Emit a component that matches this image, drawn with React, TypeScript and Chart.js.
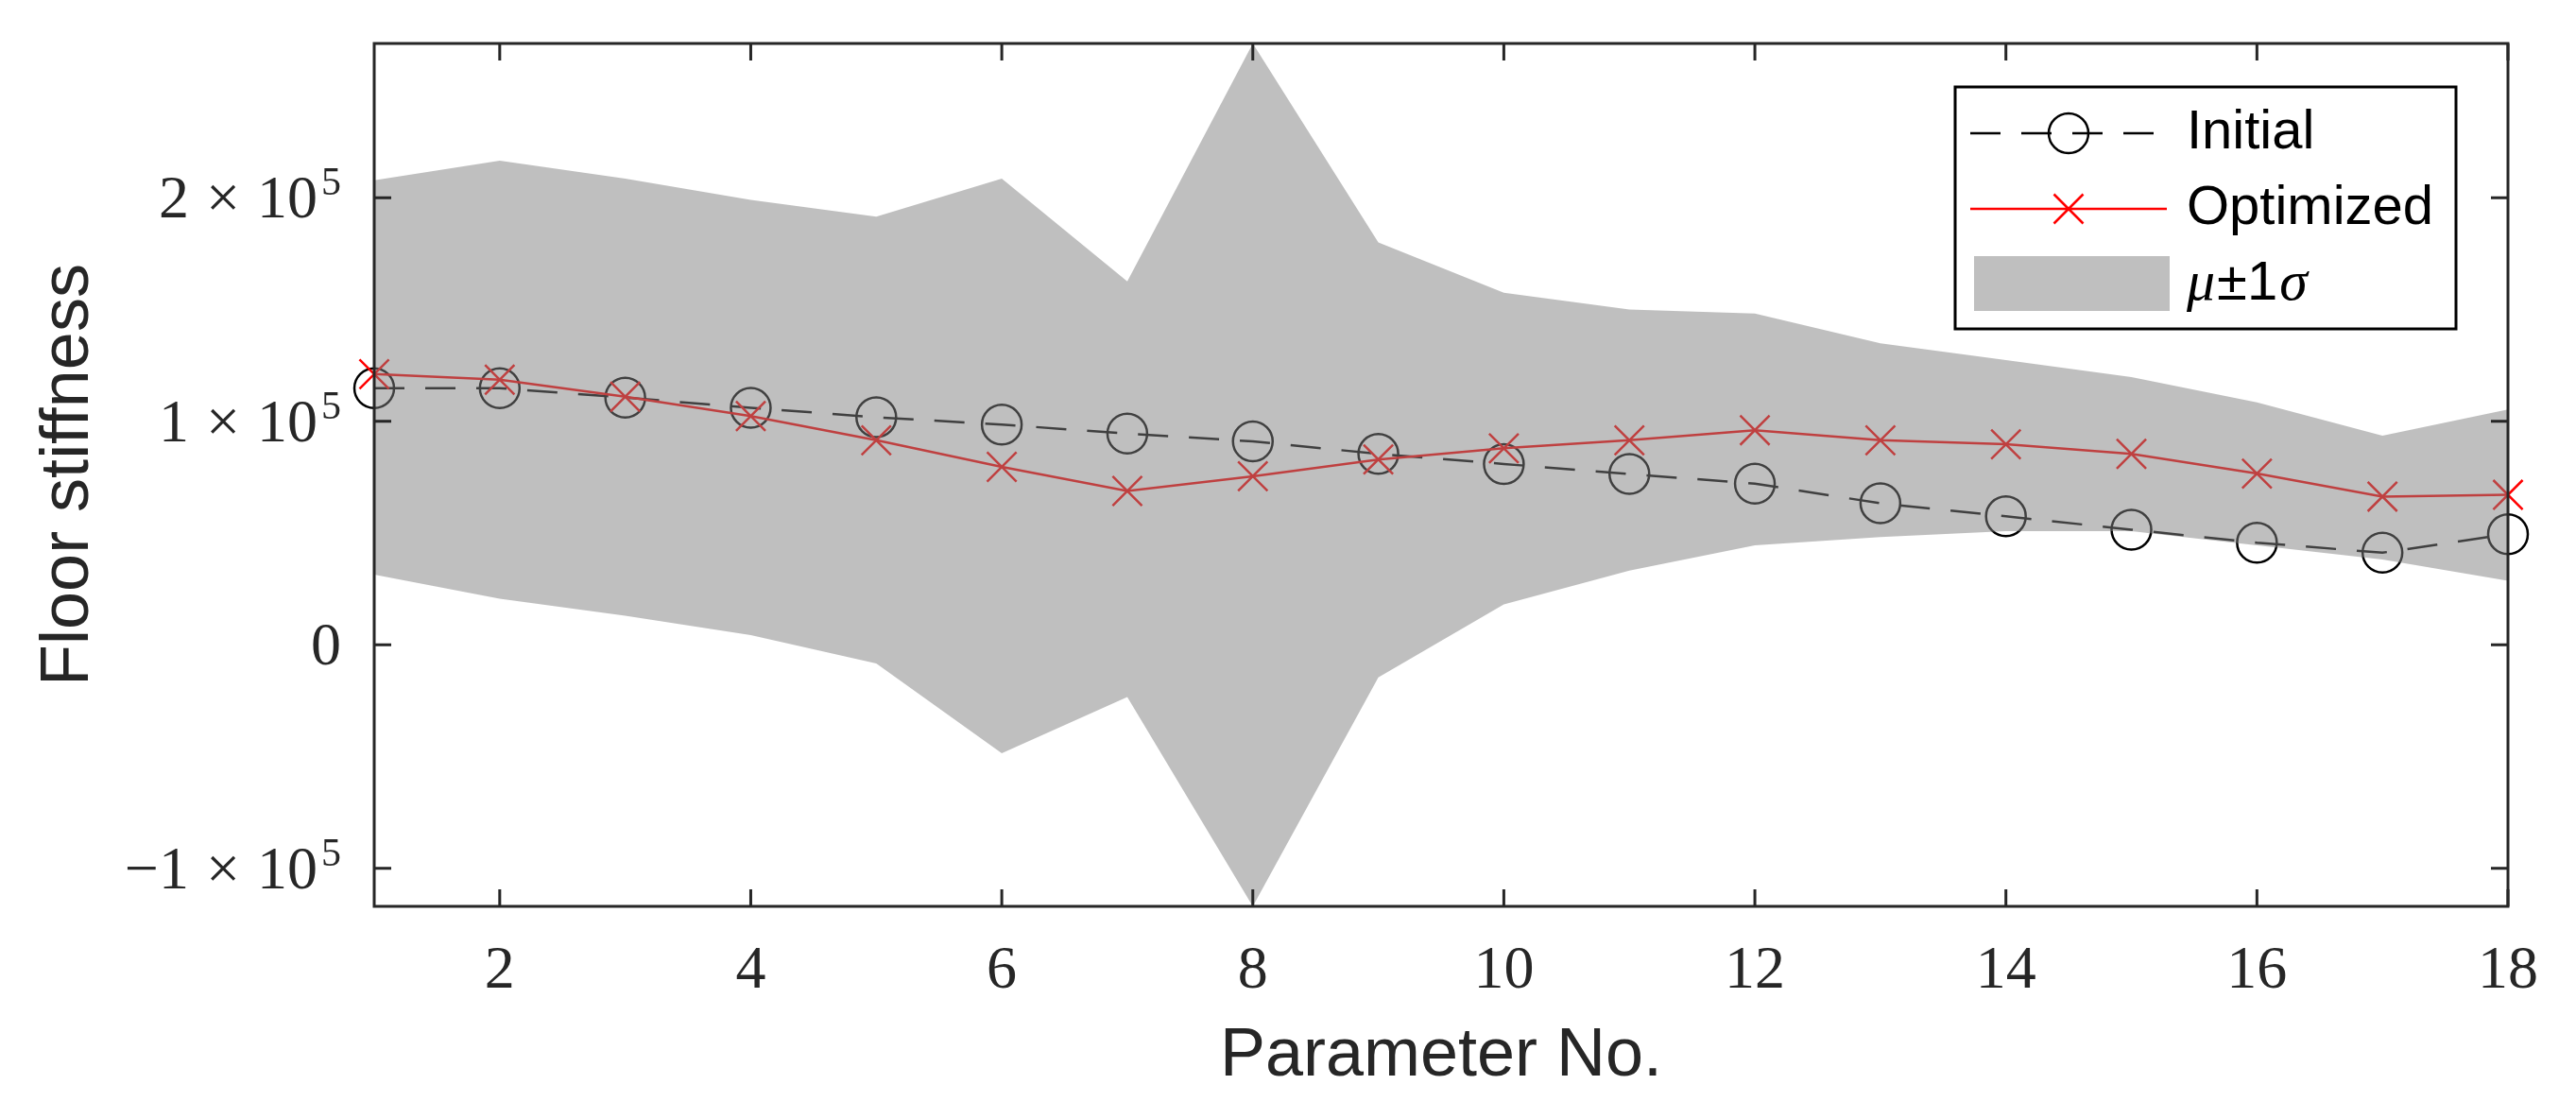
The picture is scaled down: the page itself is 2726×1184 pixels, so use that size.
import React, { useEffect, useRef } from 'react';
import { Chart, registerables } from 'chart.js';

Chart.register(...registerables);

// Parameter index on the x axis
const paramNo = [1, 2, 3, 4, 5, 6, 7, 8, 9, 10, 11, 12, 13, 14, 15, 16, 17, 18];

// Floor stiffness values
const initialStiffness = [
  1.148e5, 1.148e5, 1.106e5, 1.06e5, 1.018e5, 0.985e5, 0.945e5, 0.91e5, 0.854e5,
  0.809e5, 0.764e5, 0.721e5, 0.633e5, 0.575e5, 0.515e5, 0.457e5, 0.412e5, 0.495e5,
];
const optimizedStiffness = [
  1.211e5, 1.186e5, 1.11e5, 1.023e5, 0.915e5, 0.796e5, 0.688e5, 0.754e5, 0.829e5,
  0.879e5, 0.915e5, 0.96e5, 0.915e5, 0.897e5, 0.854e5, 0.766e5, 0.663e5, 0.671e5,
];
// mu +/- 1 sigma band
const bandUpper = [
  2.078e5, 2.166e5, 2.085e5, 1.99e5, 1.915e5, 2.085e5, 1.626e5, 2.69e5, 1.8e5,
  1.575e5, 1.5e5, 1.482e5, 1.349e5, 1.274e5, 1.198e5, 1.085e5, 0.935e5, 1.053e5,
];
const bandLower = [
  0.314e5, 0.206e5, 0.13e5, 0.043e5, -0.083e5, -0.485e5, -0.234e5, -1.17e5, -0.146e5,
  0.181e5, 0.332e5, 0.445e5, 0.482e5, 0.508e5, 0.508e5, 0.445e5, 0.382e5, 0.286e5,
];

const xTickValues = [2, 4, 6, 8, 10, 12, 14, 16, 18];
const yTickValues = [-1e5, 0, 1e5, 2e5];
const legendLabels = ['Initial', 'Optimized'];

const AXIS_COLOR = '#262626';
const BAND_FILL = 'rgba(128,128,128,0.5)';
const SANS = '"Liberation Sans", Arial, sans-serif';
const SERIF = '"Liberation Serif", "Times New Roman", serif';
const TICK_LEN = 18;

const toPoints = (ys: number[]) => paramNo.map((p, i) => ({ x: p, y: ys[i] }));

// y labels like "2 x 10^5" with a raised exponent
function drawPowerLabel(ctx: CanvasRenderingContext2D, value: number, xRight: number, yPix: number) {
  const base = yPix + 21;
  ctx.fillStyle = AXIS_COLOR;
  ctx.textAlign = 'left';
  ctx.textBaseline = 'alphabetic';
  const mainFont = `64px ${SERIF}`;
  const supFont = `42px ${SERIF}`;
  if (value === 0) {
    ctx.font = mainFont;
    ctx.fillText('0', xRight - ctx.measureText('0').width, base);
    return;
  }
  const mant = value / 1e5;
  const mantStr = mant < 0 ? `\u2212${Math.abs(mant)}` : `${mant}`;
  const gap = 18;
  ctx.font = mainFont;
  const wM = ctx.measureText(mantStr).width;
  const wX = ctx.measureText('\u00d7').width;
  const wTen = ctx.measureText('10').width;
  ctx.font = supFont;
  const wSup = ctx.measureText('5').width;
  const total = wM + gap + wX + gap + wTen + 4 + wSup;
  let x = xRight - total;
  ctx.font = mainFont;
  ctx.fillText(mantStr, x, base);
  x += wM + gap;
  ctx.fillText('\u00d7', x, base);
  x += wX + gap;
  ctx.fillText('10', x, base);
  x += wTen + 4;
  ctx.font = supFont;
  ctx.fillText('5', x, yPix - 3);
}

const axesBox = {
  id: 'axesBox',
  afterDatasetsDraw(chart: any) {
    const { ctx, chartArea, scales } = chart;
    const { left, right, top, bottom } = chartArea;
    const xs = scales.x;
    const ys = scales.y;
    ctx.save();
    ctx.strokeStyle = AXIS_COLOR;
    ctx.lineWidth = 3;
    ctx.beginPath();
    xs.ticks.forEach((t: any) => {
      const px = xs.getPixelForValue(t.value);
      ctx.moveTo(px, bottom);
      ctx.lineTo(px, bottom - TICK_LEN);
      ctx.moveTo(px, top);
      ctx.lineTo(px, top + TICK_LEN);
    });
    ys.ticks.forEach((t: any) => {
      const py = ys.getPixelForValue(t.value);
      ctx.moveTo(left, py);
      ctx.lineTo(left + TICK_LEN, py);
      ctx.moveTo(right, py);
      ctx.lineTo(right - TICK_LEN, py);
    });
    ctx.stroke();
    ctx.strokeRect(left, top, right - left, bottom - top);
    ys.ticks.forEach((t: any) => {
      drawPowerLabel(ctx, t.value, left - 35, ys.getPixelForValue(t.value));
    });
    ctx.restore();
  },
  afterDraw(chart: any) {
    const { ctx, chartArea } = chart;
    const bw = 530;
    const bh = 256;
    const bx = chartArea.right - 55 - bw;
    const by = chartArea.top + 46;
    ctx.save();
    ctx.fillStyle = '#ffffff';
    ctx.fillRect(bx, by, bw, bh);
    ctx.strokeStyle = '#000000';
    ctx.lineWidth = 3;
    ctx.strokeRect(bx, by, bw, bh);

    const lx0 = bx + 16;
    const lx1 = bx + 224;
    const mx = (lx0 + lx1) / 2;
    const textX = bx + 245;
    const rows = [by + 49, by + 129, by + 209];

    // Initial: dashed black with circle
    ctx.strokeStyle = '#000000';
    ctx.lineWidth = 2.5;
    ctx.setLineDash([32, 22]);
    ctx.beginPath();
    ctx.moveTo(lx0, rows[0]);
    ctx.lineTo(lx1, rows[0]);
    ctx.stroke();
    ctx.setLineDash([]);
    ctx.beginPath();
    ctx.arc(mx, rows[0], 21, 0, Math.PI * 2);
    ctx.stroke();

    // Optimized: red solid with x
    ctx.strokeStyle = '#ff0000';
    ctx.beginPath();
    ctx.moveTo(lx0, rows[1]);
    ctx.lineTo(lx1, rows[1]);
    const h = 15.5;
    ctx.moveTo(mx - h, rows[1] - h);
    ctx.lineTo(mx + h, rows[1] + h);
    ctx.moveTo(mx - h, rows[1] + h);
    ctx.lineTo(mx + h, rows[1] - h);
    ctx.stroke();

    // band patch
    ctx.fillStyle = BAND_FILL;
    ctx.fillRect(bx + 20, rows[2] - 30, 207, 58);

    ctx.fillStyle = '#000000';
    ctx.textBaseline = 'middle';
    ctx.textAlign = 'left';
    ctx.font = `58px ${SANS}`;
    ctx.fillText(legendLabels[0], textX, rows[0]);
    ctx.fillText(legendLabels[1], textX, rows[1]);

    let tx = textX;
    ctx.font = `italic 60px ${SERIF}`;
    ctx.fillText('\u03bc', tx, rows[2]);
    tx += ctx.measureText('\u03bc').width + 2;
    ctx.font = `58px ${SANS}`;
    ctx.fillText('\u00b11', tx, rows[2]);
    tx += ctx.measureText('\u00b11').width + 2;
    ctx.font = `italic 60px ${SERIF}`;
    ctx.fillText('\u03c3', tx, rows[2]);
    ctx.restore();
  },
};

export default function App() {
  const canvasRef = useRef<HTMLCanvasElement>(null);

  useEffect(() => {
    document.body.style.margin = '0';
    document.body.style.overflow = 'hidden';
    const yMin = Math.min(...bandLower);
    const yMax = Math.max(...bandUpper);

    const chart = new Chart(canvasRef.current as HTMLCanvasElement, {
      type: 'line',
      data: {
        datasets: [
          {
            label: legendLabels[0],
            data: toPoints(initialStiffness),
            borderColor: '#000000',
            borderWidth: 2.5,
            borderDash: [32, 22],
            pointStyle: 'circle',
            pointRadius: 21,
            pointBorderWidth: 2.5,
            pointBorderColor: '#000000',
            pointBackgroundColor: 'rgba(0,0,0,0)',
            fill: false,
            tension: 0,
            clip: false,
            order: 3,
          },
          {
            label: legendLabels[1],
            data: toPoints(optimizedStiffness),
            borderColor: '#ff0000',
            borderWidth: 2.5,
            pointStyle: 'crossRot',
            pointRadius: 22,
            pointBorderWidth: 2.5,
            pointBorderColor: '#ff0000',
            pointBackgroundColor: 'rgba(0,0,0,0)',
            fill: false,
            tension: 0,
            clip: false,
            order: 2,
          },
          {
            label: 'upper',
            data: toPoints(bandUpper),
            borderWidth: 0,
            borderColor: 'rgba(0,0,0,0)',
            pointRadius: 0,
            fill: false,
            tension: 0,
            order: 1,
          },
          {
            label: 'lower',
            data: toPoints(bandLower),
            borderWidth: 0,
            borderColor: 'rgba(0,0,0,0)',
            backgroundColor: BAND_FILL,
            pointRadius: 0,
            fill: '-1',
            tension: 0,
            order: 0,
          },
        ],
      },
      options: {
        animation: false,
        responsive: false,
        events: [],
        layout: { padding: { left: 0, top: 46, right: 72, bottom: 0 } },
        plugins: {
          legend: { display: false },
          tooltip: { enabled: false },
        },
        scales: {
          x: {
            type: 'linear',
            min: paramNo[0],
            max: paramNo[paramNo.length - 1],
            grid: { display: false },
            border: { display: false },
            afterBuildTicks: (s: any) => {
              s.ticks = xTickValues.map((v) => ({ value: v }));
            },
            afterFit: (s: any) => {
              s.height = 225;
            },
            ticks: {
              padding: 23,
              maxRotation: 0,
              autoSkip: false,
              color: AXIS_COLOR,
              font: { family: SERIF, size: 64 },
            },
            title: {
              display: true,
              text: 'Parameter No.',
              color: AXIS_COLOR,
              font: { family: SANS, size: 72 },
              padding: { top: 0, bottom: 23 },
            },
          },
          y: {
            type: 'linear',
            min: yMin,
            max: yMax,
            grid: { display: false },
            border: { display: false },
            afterBuildTicks: (s: any) => {
              s.ticks = yTickValues.map((v) => ({ value: v }));
            },
            afterFit: (s: any) => {
              s.width = 396;
            },
            ticks: { display: false },
            title: {
              display: true,
              text: 'Floor stiffness',
              color: AXIS_COLOR,
              font: { family: SANS, size: 72 },
              padding: { top: 30, bottom: 0 },
            },
          },
        },
      },
      plugins: [axesBox],
    } as any);

    return () => chart.destroy();
  }, []);

  return (
    <div style={{ width: 2726, height: 1184, background: '#ffffff' }}>
      <canvas ref={canvasRef} width={2726} height={1184} style={{ display: 'block' }} />
    </div>
  );
}
